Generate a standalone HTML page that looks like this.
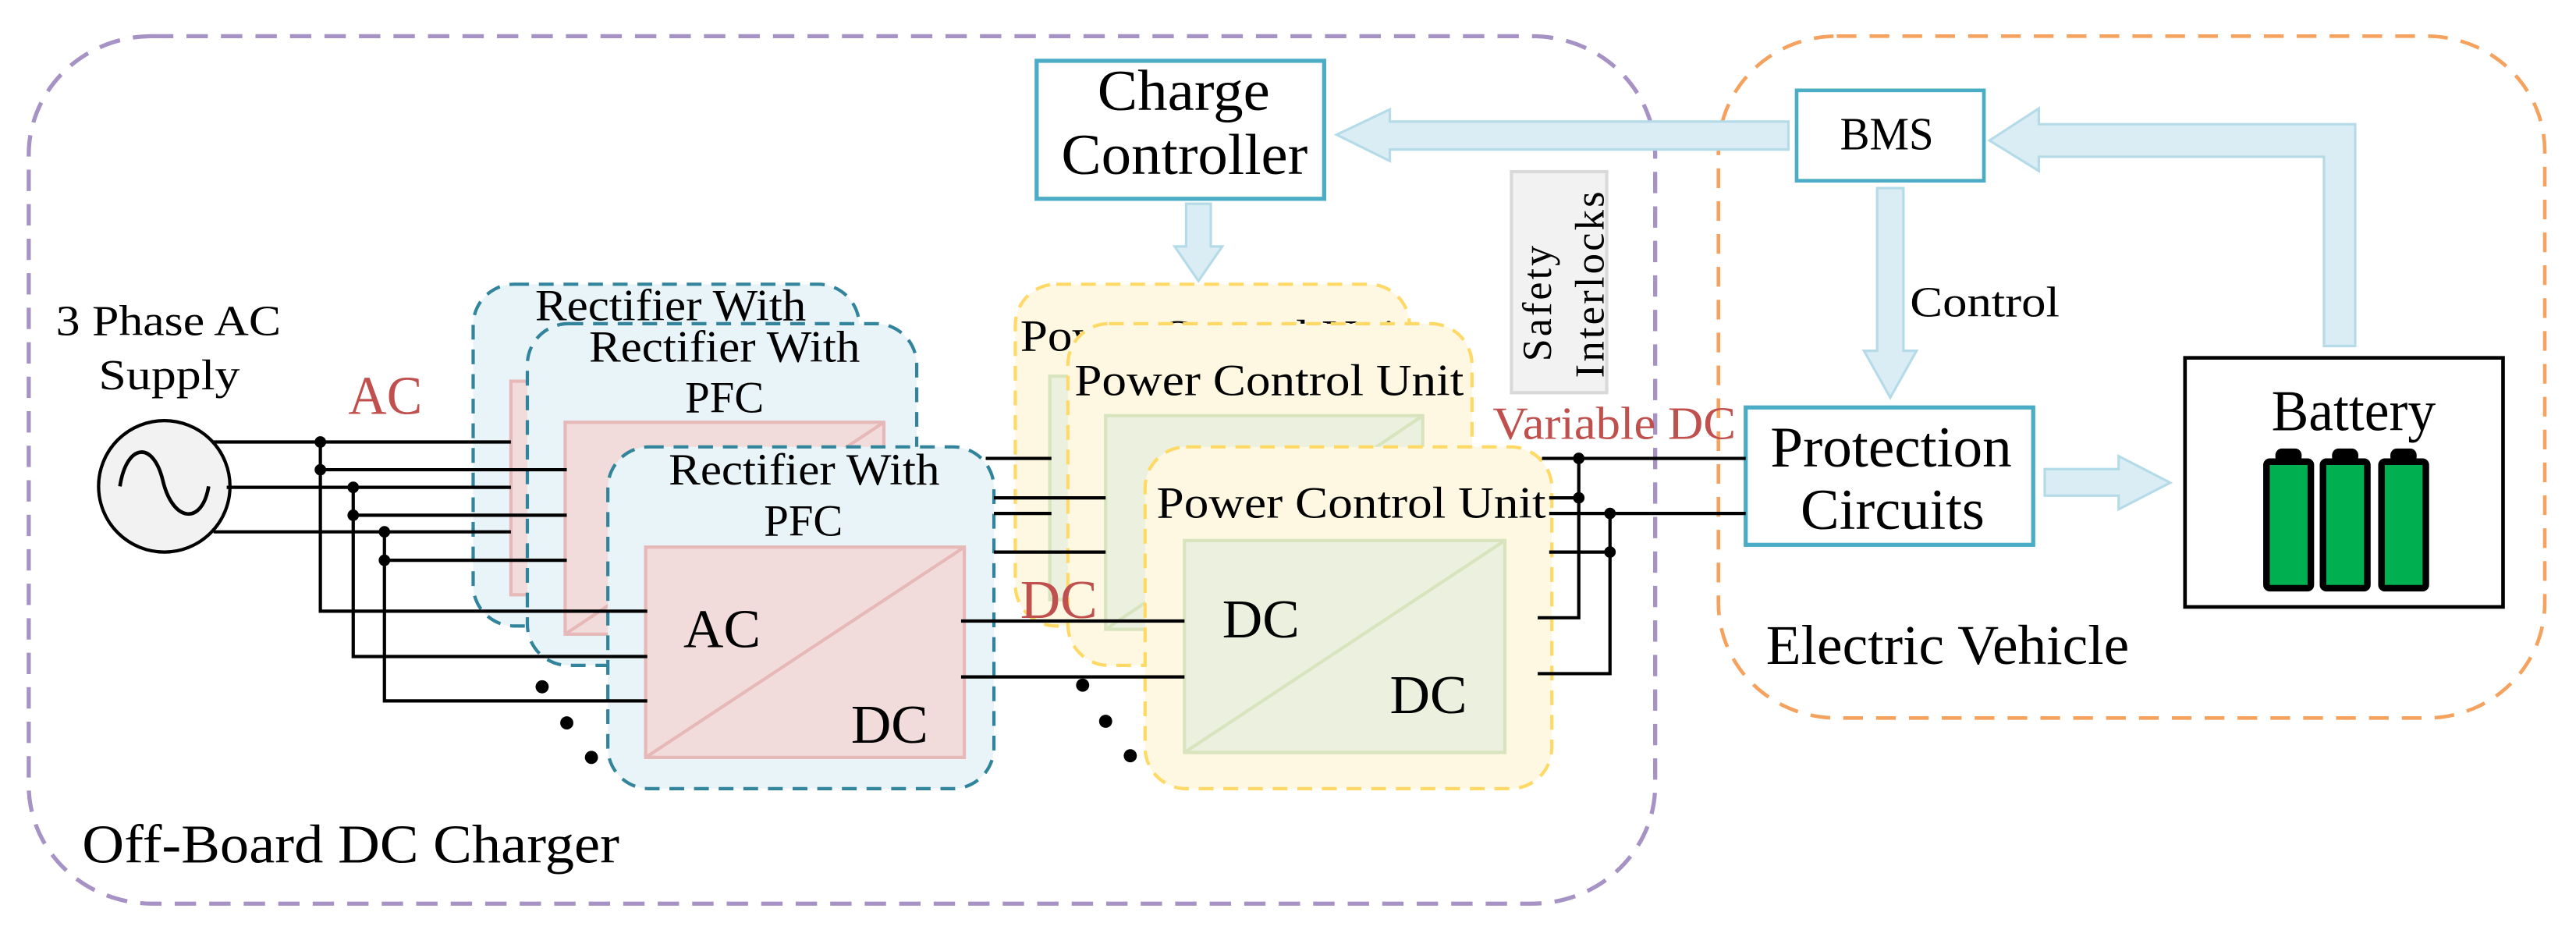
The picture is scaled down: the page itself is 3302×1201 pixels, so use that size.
<!DOCTYPE html>
<html><head><meta charset="utf-8"><style>
html,body{margin:0;padding:0;background:#fff;}
svg{display:block;}
text{font-family:"Liberation Serif",serif;fill:#000;}
</style></head><body>
<svg width="3302" height="1201" viewBox="0 0 1568 570.3" preserveAspectRatio="none" xmlns="http://www.w3.org/2000/svg">
<rect x="17.5" y="22" width="990" height="528" rx="75" ry="72" fill="none" stroke="#a692c4" stroke-width="2.5" stroke-dasharray="13,8"/>
<rect x="1046" y="22" width="503" height="415" rx="72" ry="70" fill="none" stroke="#f4a25e" stroke-width="2.2" stroke-dasharray="12,8"/>

<rect x="631" y="37" width="175" height="84" fill="#fff" stroke="#4bacc6" stroke-width="2.5"/>
<text x="668" y="67" font-size="35" textLength="105" lengthAdjust="spacingAndGlyphs">Charge</text>
<text x="646" y="106" font-size="35" textLength="150" lengthAdjust="spacingAndGlyphs">Controller</text>
<polygon points="722,124 737,124 737,150 744,150 729.5,171 715,150 722,150" fill="#daedf4" stroke="#b4dbe7" stroke-width="1.5"/>

<rect x="1093.6" y="55" width="114" height="55" fill="#fff" stroke="#4bacc6" stroke-width="2.2"/>
<text x="1120" y="91" font-size="28" textLength="57" lengthAdjust="spacingAndGlyphs">BMS</text>
<polygon points="1088.6,74 846,74 846,66.6 813.6,82 846,98 846,91 1088.6,91" fill="#daedf4" stroke="#b4dbe7" stroke-width="1.5"/>
<polygon points="1414.6,210.6 1433.6,210.6 1433.6,75.6 1241,75.6 1241,66 1211,85.5 1241,104 1241,95.4 1414.6,95.4" fill="#daedf4" stroke="#b4dbe7" stroke-width="1.5"/>
<polygon points="1142.6,114.5 1158.6,114.5 1158.6,213.5 1166.6,213.5 1150.6,242 1134.6,213.5 1142.6,213.5" fill="#daedf4" stroke="#b4dbe7" stroke-width="1.5"/>
<text x="1162.6" y="192.6" font-size="26" textLength="91" lengthAdjust="spacingAndGlyphs">Control</text>

<rect x="1062.6" y="248" width="175" height="83.6" fill="#fff" stroke="#4bacc6" stroke-width="2.5"/>
<text x="1077.6" y="284" font-size="35" textLength="147" lengthAdjust="spacingAndGlyphs">Protection</text>
<text x="1096" y="322" font-size="35" textLength="112" lengthAdjust="spacingAndGlyphs">Circuits</text>
<polygon points="1244.6,285.5 1289.6,285.5 1289.6,277.6 1321,293.8 1289.6,310 1289.6,301.7 1244.6,301.7" fill="#daedf4" stroke="#b4dbe7" stroke-width="1.5"/>

<rect x="1330" y="217.8" width="193.6" height="151.6" fill="#fff" stroke="#000" stroke-width="2.2"/>
<text x="1382.6" y="262" font-size="35" textLength="100" lengthAdjust="spacingAndGlyphs">Battery</text>
<g fill="#000">
<rect x="1385" y="273" width="16" height="9" rx="4"/>
<rect x="1419.5" y="273" width="16" height="9" rx="4"/>
<rect x="1455" y="273" width="16" height="9" rx="4"/>
</g>
<g fill="#00b050" stroke="#000" stroke-width="4">
<rect x="1379.6" y="281" width="27" height="77" rx="2"/>
<rect x="1414" y="281" width="27" height="77" rx="2"/>
<rect x="1449.6" y="281" width="27" height="77" rx="2"/>
</g>
<text x="1075" y="404" font-size="34" textLength="221" lengthAdjust="spacingAndGlyphs">Electric Vehicle</text>

<rect x="920" y="104.5" width="58" height="134.5" fill="#f2f2f2" stroke="#d9d9d9" stroke-width="2"/>
<text transform="translate(944,220) rotate(-90)" font-size="25" textLength="72" lengthAdjust="spacingAndGlyphs" letter-spacing="1.5">Safety</text>
<text transform="translate(976,230) rotate(-90)" font-size="25" textLength="115" lengthAdjust="spacingAndGlyphs" letter-spacing="1.5">Interlocks</text>

<text x="34" y="204" font-size="26" textLength="137" lengthAdjust="spacingAndGlyphs">3 Phase AC</text>
<text x="60" y="237" font-size="26" textLength="86" lengthAdjust="spacingAndGlyphs">Supply</text>
<text x="212" y="252" font-size="33" style="fill:#c0504d" textLength="45" lengthAdjust="spacingAndGlyphs">AC</text>
<circle cx="100" cy="296" r="40" fill="#f2f2f2" stroke="#000" stroke-width="2"/>
<path d="M74 296 C78 270,94 268,100 292 C106 318,124 320,128 296" fill="none" stroke="#000" stroke-width="2.2" transform="translate(-1,0)"/>

<rect x="288" y="173" width="235" height="208" rx="25" fill="#e9f4f9" stroke="#31849b" stroke-width="2" stroke-dasharray="9,6"/>
<text x="325.7" y="195" font-size="27" textLength="165" lengthAdjust="spacingAndGlyphs">Rectifier With</text>
<rect x="311" y="232" width="194" height="130" fill="#f2dcdb" stroke="#e6b9b8" stroke-width="2"/>
<g stroke="#000" stroke-width="2" fill="none">
<line x1="130" y1="269" x2="311" y2="269"/>
<line x1="138" y1="296.6" x2="311" y2="296.6"/>
<line x1="130" y1="323.7" x2="311" y2="323.7"/>
</g>
<rect x="321" y="197" width="237" height="208" rx="25" fill="#e9f4f9" stroke="#31849b" stroke-width="2" stroke-dasharray="9,6"/>
<text x="358.5" y="220" font-size="27" textLength="165" lengthAdjust="spacingAndGlyphs">Rectifier With</text>
<text x="417" y="251" font-size="27" textLength="48" lengthAdjust="spacingAndGlyphs">PFC</text>
<rect x="344" y="257" width="194" height="129" fill="#f2dcdb" stroke="#e6b9b8" stroke-width="2"/>
<line x1="344" y1="386" x2="538" y2="257" stroke="#e6b9b8" stroke-width="2"/>
<g stroke="#000" stroke-width="2" fill="none">
<line x1="195" y1="285.9" x2="345" y2="285.9"/>
<line x1="215" y1="313.6" x2="345" y2="313.6"/>
<line x1="234" y1="341" x2="345" y2="341"/>
</g>
<rect x="370" y="272" width="235" height="208" rx="25" fill="#e9f4f9" stroke="#31849b" stroke-width="2" stroke-dasharray="9,6"/>
<text x="407" y="295" font-size="27" textLength="165" lengthAdjust="spacingAndGlyphs">Rectifier With</text>
<text x="465" y="326" font-size="27" textLength="48" lengthAdjust="spacingAndGlyphs">PFC</text>
<rect x="393" y="333" width="194" height="128" fill="#f2dcdb" stroke="#e6b9b8" stroke-width="2"/>
<line x1="393" y1="461" x2="587" y2="333" stroke="#e6b9b8" stroke-width="2"/>
<text x="416" y="394" font-size="33" textLength="47" lengthAdjust="spacingAndGlyphs">AC</text>
<text x="518" y="452" font-size="33" textLength="47" lengthAdjust="spacingAndGlyphs">DC</text>
<g stroke="#000" stroke-width="2" fill="none">
<polyline points="195,269 195,372 394,372"/>
<polyline points="215,296.6 215,399.6 394,399.6"/>
<polyline points="234,323.7 234,426.6 394,426.6"/>
</g>
<g fill="#000">
<circle cx="195" cy="269" r="3.5"/><circle cx="195" cy="285.9" r="3.5"/>
<circle cx="215" cy="296.6" r="3.5"/><circle cx="215" cy="313.6" r="3.5"/>
<circle cx="234" cy="323.7" r="3.5"/><circle cx="234" cy="341" r="3.5"/>
<circle cx="330" cy="418" r="4"/><circle cx="345" cy="440" r="4"/><circle cx="360" cy="461" r="4"/>
<circle cx="659" cy="417" r="4"/><circle cx="673" cy="439" r="4"/><circle cx="688" cy="460" r="4"/>
</g>

<rect x="618" y="173" width="240" height="208" rx="25" fill="#fef8e2" stroke="#ffd966" stroke-width="2" stroke-dasharray="9,6"/>
<text x="621" y="213.5" font-size="27" textLength="237" lengthAdjust="spacingAndGlyphs">Power Control Unit</text>
<rect x="639" y="229" width="195" height="136" fill="#ebf1de" stroke="#d7e4bd" stroke-width="2"/>
<rect x="650" y="197" width="246" height="208" rx="25" fill="#fef8e2" stroke="#ffd966" stroke-width="2" stroke-dasharray="9,6"/>
<text x="654" y="240.5" font-size="27" textLength="237" lengthAdjust="spacingAndGlyphs">Power Control Unit</text>
<rect x="673" y="253" width="193" height="130" fill="#ebf1de" stroke="#d7e4bd" stroke-width="2"/>
<line x1="673" y1="383" x2="866" y2="253" stroke="#d7e4bd" stroke-width="2"/>
<text x="621" y="376" font-size="33" style="fill:#c0504d" textLength="47" lengthAdjust="spacingAndGlyphs">DC</text>
<g stroke="#000" stroke-width="2" fill="none">
<line x1="600" y1="279" x2="640" y2="279"/>
<line x1="605" y1="303" x2="673" y2="303"/>
<line x1="605" y1="312.5" x2="640" y2="312.5"/>
<line x1="605" y1="336" x2="673" y2="336"/>
</g>
<rect x="697" y="272" width="247.6" height="208" rx="25" fill="#fef8e2" stroke="#ffd966" stroke-width="2" stroke-dasharray="9,6"/>
<text x="704" y="315" font-size="27" textLength="237" lengthAdjust="spacingAndGlyphs">Power Control Unit</text>
<rect x="721" y="329" width="195" height="129" fill="#ebf1de" stroke="#d7e4bd" stroke-width="2"/>
<line x1="721" y1="458" x2="916" y2="329" stroke="#d7e4bd" stroke-width="2"/>
<text x="744" y="388" font-size="33" textLength="47" lengthAdjust="spacingAndGlyphs">DC</text>
<text x="846" y="434" font-size="33" textLength="47" lengthAdjust="spacingAndGlyphs">DC</text>
<line x1="585" y1="378" x2="721" y2="378" stroke="#000" stroke-width="2"/>
<line x1="585" y1="412" x2="721" y2="412" stroke="#000" stroke-width="2"/>

<g stroke="#000" stroke-width="2" fill="none">
<line x1="938.6" y1="279" x2="1062.6" y2="279"/>
<line x1="943" y1="303" x2="961" y2="303"/>
<line x1="943" y1="312.5" x2="1062.6" y2="312.5"/>
<line x1="943" y1="336" x2="980" y2="336"/>
<polyline points="936,376 961,376 961,279"/>
<polyline points="936,410 980,410 980,312.5"/>
</g>
<g fill="#000">
<circle cx="961" cy="279" r="3.5"/><circle cx="961" cy="303" r="3.5"/>
<circle cx="980" cy="312.5" r="3.5"/><circle cx="980" cy="336" r="3.5"/>
</g>
<text x="908.6" y="267" font-size="28" style="fill:#c0504d" textLength="148" lengthAdjust="spacingAndGlyphs">Variable DC</text>

<text x="50" y="525" font-size="33" textLength="327" lengthAdjust="spacingAndGlyphs">Off-Board DC Charger</text>
</svg>
</body></html>
